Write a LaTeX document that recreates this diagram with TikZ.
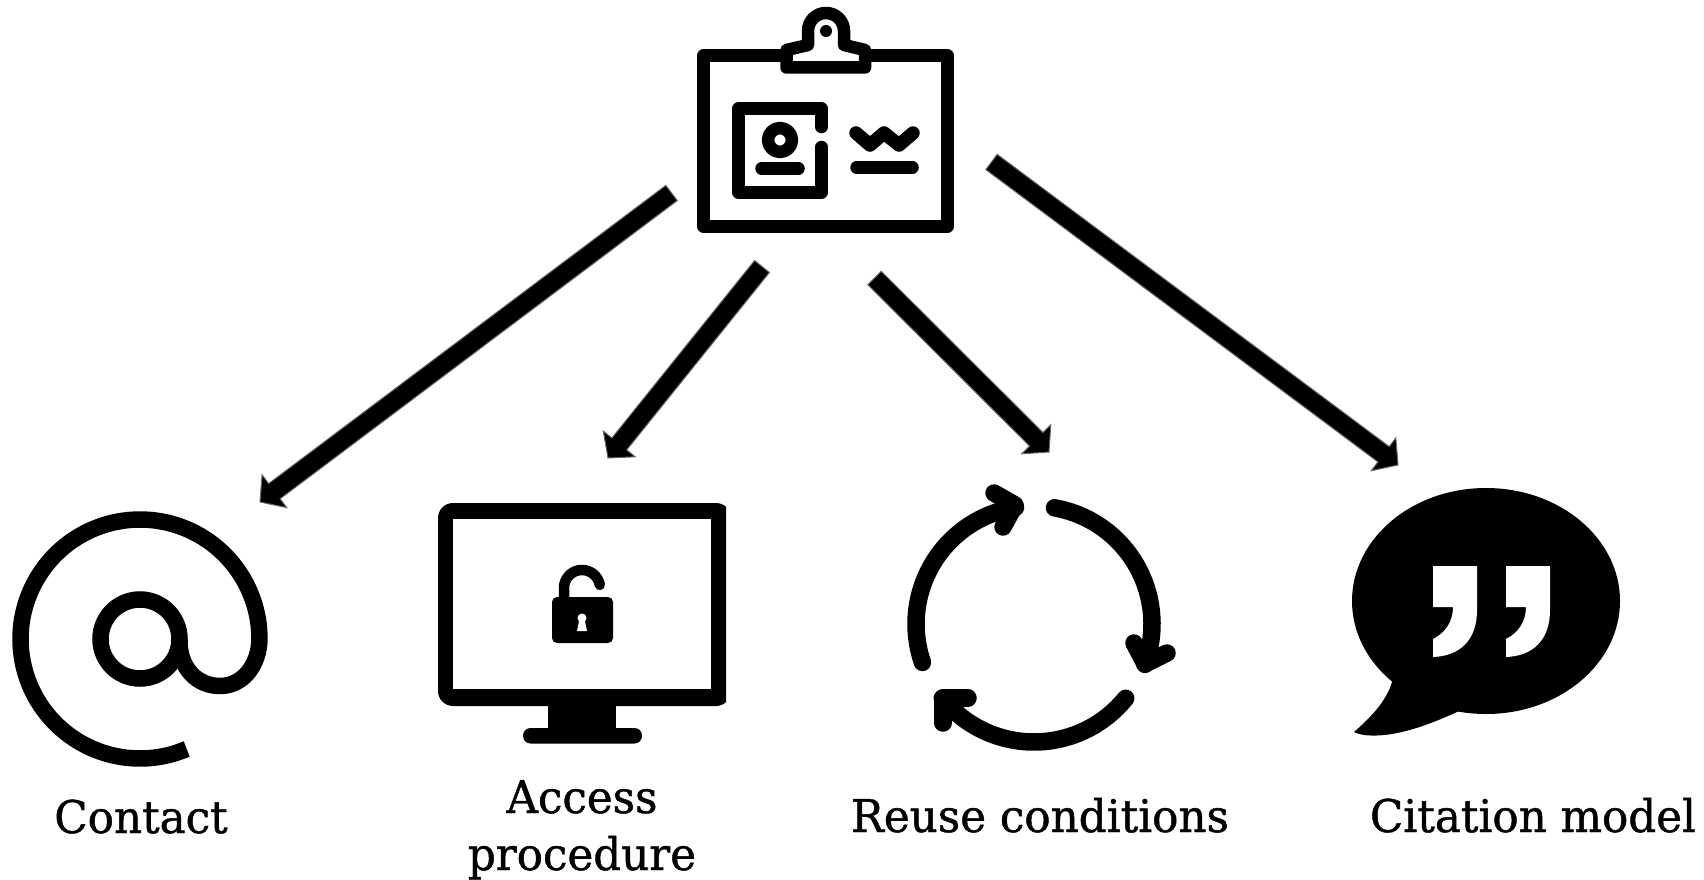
\documentclass[tikz,border=0pt]{standalone}
\usepackage{fontspec}
\usetikzlibrary{calc}
\newfontfamily\labelfont[FakeStretch=0.97,FakeBold=1]{DejaVu Serif}
\tikzset{
  x=1pt,y=-1pt,
  icon/.style={line width=#1,draw=black,line join=round,line cap=round},
  icon/.default=12.5,
  fatarrow/.style={fill=black,draw=black!60,line width=1,line join=miter},
  lbl/.style={font=\labelfont\fontsize{45}{58}\selectfont,text=black,inner sep=0pt,anchor=base,align=center}
}
\newcommand\fatarrow[2]{%
  \path ($(#2)!18pt!(#1)$) coordinate (neck);
  \filldraw[fatarrow] ($(#1)!9.5pt!90:(#2)$) -- ($(neck)!9.5pt!90:(#2)$) -- ($(neck)!20.5pt!90:(#2)$) -- (#2) -- ($(neck)!20.5pt!-90:(#2)$) -- ($(neck)!9.5pt!-90:(#2)$) -- ($(#1)!9.5pt!-90:(#2)$) -- cycle;}
\newcommand\arcplot[5]{% cx cy r a b (screen angles)
  plot[domain=#4:#5,samples=50,smooth] ({#1+#3*cos(\x)},{#2+#3*sin(\x)})}
\begin{document}
\begin{tikzpicture}
\useasboundingbox (0,0) rectangle (1704,880);
\fill[white] (0,0) rectangle (1704,880);
% ---- card
\draw[icon] (703.5,55.5) rectangle (947.5,226.5);
\filldraw[icon,fill=white] (786.5,67.5) -- (786.5,50) -- (808,45) -- (808,31)
  .. controls (808,21) and (816,13) .. (826,13) .. controls (836,13) and (844,21) .. (844,31)
  -- (844,45) -- (865,50) -- (865,67.5) -- cycle;
\fill (826,31) circle (6);
\draw[icon] (821.5,127) -- (821.5,108.5) -- (738.5,108.5) -- (738.5,192.5) -- (821.5,192.5) -- (821.5,147);
\draw[icon] (780,140) circle (12);
\draw[icon] (761.5,168.5) -- (798.5,168.5);
\draw[icon=13.5] (856,133) -- (870,145) -- (884,133) -- (899,145) -- (913,133);
\draw[icon] (856.5,167.5) -- (912.5,167.5);
% ---- at
\draw[line width=16.5,draw=black] (140,639) circle (39.5);
\draw[line width=16.5,line join=round] \arcplot{140}{639}{119.5}{67}{360}
  .. controls (259,665) and (243,686) .. (220,686) .. controls (197,686) and (179,668) .. (179.5,640);
% ---- monitor
\begin{scope}
\clip (430,495) rectangle (726,760);
\fill[rounded corners=15] (438,503) rectangle (731,706);
\end{scope}
\fill[white] (453,519) rectangle (711,689);
\fill (548,700) rectangle (616,730);
\fill[rounded corners=7.5] (523,728) rectangle (642,743.5);
\fill[rounded corners=5] (552,597) rectangle (613,643);
\draw[line width=10.5,line cap=round] (564,600) -- (564,588) \arcplot{582}{588}{18}{180}{350};
\fill[white] (582,618) circle (4.5);
\fill[white] (579.5,619) -- (584.5,619) -- (587,631) -- (577,631) -- cycle;
% ---- cycle
\draw[icon=17.5] \arcplot{1034}{624}{118}{-80}{20};
\draw[icon=17.5] (1134,643) -- (1145,664) -- (1167,653);
\fill (1140,653) -- (1145,664) -- (1156,658) -- cycle;
\draw[icon=17.5] \arcplot{1034}{624}{118}{39}{141};
\draw[icon=17.5] (968,698) -- (943,698) -- (943,723);
\fill (955,698) -- (943,698) -- (943,710) -- cycle;
\draw[icon=17.5] \arcplot{1034}{624}{118}{161}{261};
\draw[icon=17.5] (994,493) -- (1015,505) -- (1003,527);
\fill (1004,499) -- (1015,505) -- (1009,516) -- cycle;
% ---- speech
\fill (1486,601) ellipse [x radius=134,y radius=113];
\fill (1392,682) .. controls (1386,702) and (1370,718) .. (1354,732)
  .. controls (1362,736) and (1373,736) .. (1385,735)
  .. controls (1410,732) and (1435,722) .. (1457,712) -- (1480,700) -- (1420,670) -- cycle;
\foreach \dx in {0,73}{
  \fill[white,xshift=\dx] (1433,566) -- (1477,566) -- (1477,610)
    .. controls (1477,640) and (1460,656) .. (1433,657) -- (1433,639)
    .. controls (1445,633) and (1453,622) .. (1453,607) -- (1433,607) -- cycle;
}
% ---- anchors and arrows
\coordinate (src1) at (671.5,193);
\coordinate (src2) at (762,266.5);
\coordinate (src3) at (874.5,278);
\coordinate (src4) at (991.5,162);
\coordinate (contact) at (260,502);
\coordinate (access) at (608,458);
\coordinate (reuse) at (1049,452);
\coordinate (citation) at (1398,465);
\fatarrow{src1}{contact}
\fatarrow{src2}{access}
\fatarrow{src3}{reuse}
\fatarrow{src4}{citation}
% ---- labels
\node[lbl] (l1) at (141,833) {Contact};
\node[lbl] (l2a) at (582,813) {Access};
\node[lbl] (l2b) at (582,870) {procedure};
\node[lbl] (l3) at (1040,832) {Reuse conditions};
\node[lbl] (l4) at (1533,832) {Citation model};
\end{tikzpicture}
\end{document}
